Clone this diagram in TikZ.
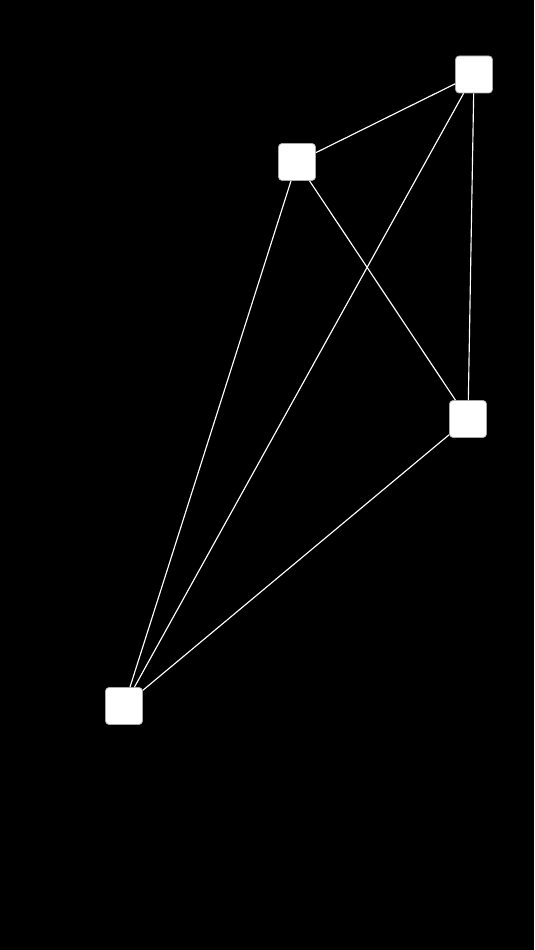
\documentclass[tikz,border=0pt]{standalone}
\tikzset{
    sq/.style={draw=gray!70, line width=0.4pt, fill=white, rounded corners=0.07cm,
               minimum size=0.74cm, inner sep=0},
    edge/.style={draw=white, line width=0.65pt}
}
\begin{document}
\begin{tikzpicture}
    % background
    \fill[black] (0,0) rectangle (10.68,19);
    \useasboundingbox (0,0) rectangle (10.68,19);

    % squares
    \node[sq] (topr) at (9.48,17.51) {};
    \node[sq] (topl) at (5.94,15.76) {};
    \node[sq] (midr) at (9.36,10.62) {};
    \node[sq] (botl) at (2.48,4.88) {};

    % edges
    \path[edge] (topl) -- (topr);
    \path[edge] (topr) -- (midr);
    \path[edge] (topr) -- (botl);
    \path[edge] (topl) -- (botl);
    \path[edge] (topl) -- (midr);
    \path[edge] (midr) -- (botl);
\end{tikzpicture}
\end{document}
